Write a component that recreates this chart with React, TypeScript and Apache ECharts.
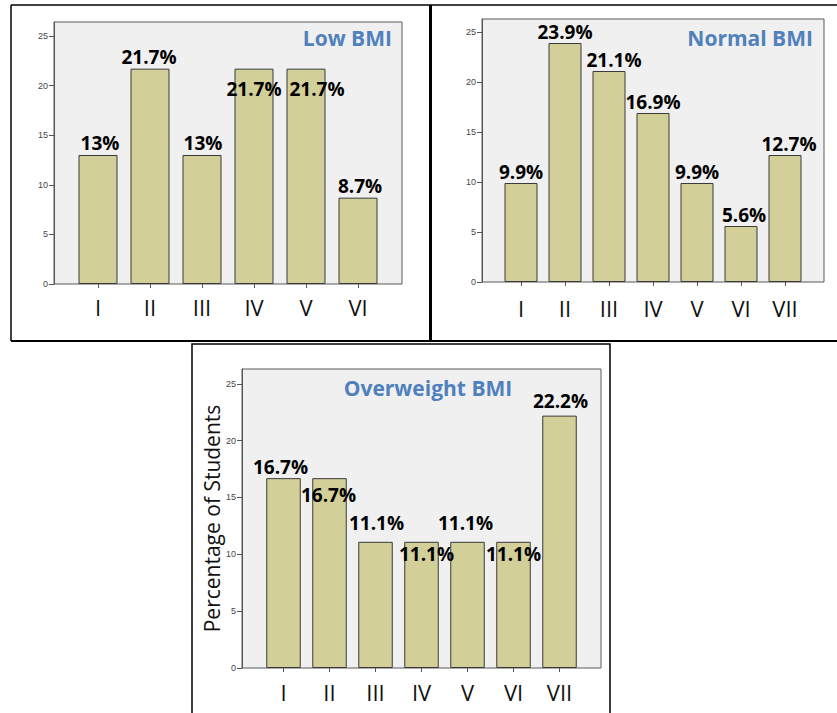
import React, { useEffect, useRef } from "react";
import * as echarts from "echarts";

// Categories (Roman numerals) and percentage of students per BMI group
const sixCategories = ["I", "II", "III", "IV", "V", "VI"];
const sevenCategories = ["I", "II", "III", "IV", "V", "VI", "VII"];
const lowBmiValues = [13, 21.7, 13, 21.7, 21.7, 8.7];
const normalBmiValues = [9.9, 23.9, 21.1, 16.9, 9.9, 5.6, 12.7];
const overweightBmiValues = [16.7, 16.7, 11.1, 11.1, 11.1, 11.1, 22.2];
const yTickStep = 5;

// Per-bar nudges [dx, dy] for the value labels so overlapping ones stay readable
const lowLabelNudges = [[2, 0], [-1, 0], [1, 0], [0, 32], [11, 32], [2, 0]];
const normalLabelNudges = [[0, 0], [0, 0], [5, 0], [0, 0], [0, 0], [3, 0], [4, 0]];
const overweightLabelNudges = [[-3, 0], [-1, 28], [1, -7], [5, 24], [-2, -7], [0, 24], [1, -3]];

const BAR_FILL = "#d3cf98";
const BAR_EDGE = "#3a3a3a";
const PLOT_BG = "#f0f0f0";
const TITLE_BLUE = "#4f81bd";

type Panel = {
  title: string;
  categories: string[];
  values: number[];
  nudges: number[][];
  grid: { left: number; top: number; width: number; height: number };
  frame: { x: number; y: number; w: number; h: number };
  max: number;
  axisOffset: number;
  labelMargin: number;
  titlePos: { x: number; y: number; align: string };
  yName?: string;
};

const panels: Panel[] = [
  {
    title: "Low BMI",
    categories: sixCategories,
    values: lowBmiValues,
    nudges: lowLabelNudges,
    grid: { left: 72, top: 22, width: 312, height: 262 },
    frame: { x: 54, y: 22, w: 348, h: 262 },
    max: 26.4,
    axisOffset: 18,
    labelMargin: 12,
    titlePos: { x: 392, y: 38, align: "right" },
  },
  {
    title: "Normal BMI",
    categories: sevenCategories,
    values: normalBmiValues,
    nudges: normalLabelNudges,
    grid: { left: 499, top: 19, width: 308, height: 263 },
    frame: { x: 482, y: 19, w: 342, h: 263 },
    max: 26.3,
    axisOffset: 17,
    labelMargin: 15,
    titlePos: { x: 813, y: 38, align: "right" },
  },
  {
    title: "Overweight BMI",
    categories: sevenCategories,
    values: overweightBmiValues,
    nudges: overweightLabelNudges,
    grid: { left: 260.5, top: 369, width: 322, height: 299 },
    frame: { x: 242, y: 369, w: 359, h: 299 },
    max: 26.3,
    axisOffset: 18.5,
    labelMargin: 13,
    titlePos: { x: 428, y: 388, align: "center" },
    yName: "Percentage of Students",
  },
];

function buildOption() {
  const grids = panels.map((p) => ({ ...p.grid, show: false, containLabel: false }));

  const xAxes = panels.map((p, i) => ({
    type: "category",
    gridIndex: i,
    data: p.categories,
    axisLine: { show: false },
    axisTick: { show: true, alignWithLabel: true, length: 4, lineStyle: { color: "#555" } },
    axisLabel: {
      margin: p.labelMargin,
      fontSize: 22,
      fontFamily: "Open Sans",
      color: "#111",
    },
    splitLine: { show: false },
  }));

  const yAxes = panels.map((p, i) => ({
    type: "value",
    gridIndex: i,
    min: 0,
    max: p.max,
    interval: yTickStep,
    offset: p.axisOffset,
    axisLine: { show: true, lineStyle: { color: "#555" } },
    axisTick: { show: true, length: 5, lineStyle: { color: "#555" } },
    axisLabel: {
      margin: 6,
      fontSize: 9,
      fontFamily: "Liberation Sans",
      color: "#444",
      showMaxLabel: false,
    },
    splitLine: { show: false },
    name: p.yName,
    nameLocation: "middle",
    nameGap: 20,
    nameTextStyle: { fontSize: 21, fontFamily: "Open Sans", color: "#111" },
  }));

  const series = panels.map((p, i) => ({
    type: "bar",
    xAxisIndex: i,
    yAxisIndex: i,
    barCategoryGap: "25%",
    itemStyle: { color: BAR_FILL, borderColor: BAR_EDGE, borderWidth: 1 },
    label: {
      show: true,
      position: "top",
      distance: 2,
      fontSize: 19,
      fontWeight: "bold",
      fontFamily: "Open Sans",
      color: "#000",
      formatter: (d: any) => `${d.value}%`,
    },
    data: p.values.map((v, j) => ({
      value: v,
      label: { offset: p.nudges[j] },
    })),
  }));

  const frames = panels.map((p) => ({
    type: "rect",
    z: -1,
    shape: { x: p.frame.x, y: p.frame.y, width: p.frame.w, height: p.frame.h },
    style: { fill: PLOT_BG, stroke: "#5a5a5a", lineWidth: 1 },
  }));

  const titles = panels.map((p) => ({
    type: "text",
    z: 10,
    x: p.titlePos.x,
    y: p.titlePos.y,
    style: {
      text: p.title,
      align: p.titlePos.align,
      verticalAlign: "middle",
      fontSize: 21,
      fontWeight: "bold",
      fontFamily: "Open Sans",
      fill: TITLE_BLUE,
    },
  }));

  // Panel outlines around the three charts
  const outline = { stroke: "#000", lineWidth: 1.5 };
  const borders = [
    { type: "line", z: 20, shape: { x1: 11, y1: 5, x2: 837, y2: 5 }, style: outline },
    { type: "line", z: 20, shape: { x1: 11, y1: 5, x2: 11, y2: 341 }, style: outline },
    { type: "line", z: 20, shape: { x1: 430.5, y1: 5, x2: 430.5, y2: 341 }, style: { stroke: "#000", lineWidth: 3 } },
    { type: "line", z: 20, shape: { x1: 11, y1: 341, x2: 837, y2: 341 }, style: { stroke: "#000", lineWidth: 2 } },
    {
      type: "rect",
      z: 20,
      shape: { x: 192, y: 344, width: 418, height: 400 },
      style: { fill: "none", stroke: "#000", lineWidth: 1.5 },
    },
  ];

  return {
    animation: false,
    backgroundColor: "#fff",
    grid: grids,
    xAxis: xAxes,
    yAxis: yAxes,
    series,
    graphic: [...frames, ...titles, ...borders],
  };
}

export default function App() {
  const ref = useRef<HTMLDivElement>(null);

  useEffect(() => {
    document.body.style.margin = "0";
    const chart = echarts.init(ref.current!, null, { renderer: "svg" });
    chart.setOption(buildOption() as any);
    return () => chart.dispose();
  }, []);

  return <div ref={ref} style={{ width: 837, height: 713 }} />;
}
